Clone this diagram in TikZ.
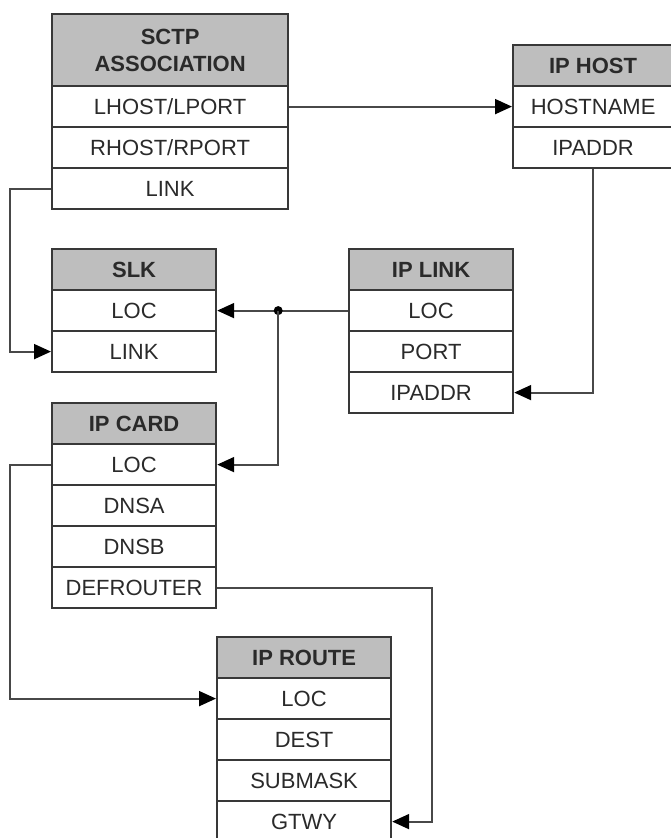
\documentclass[tikz,border=0pt]{standalone}
\usepackage{fontspec}
\setmainfont{Liberation Sans}
\usetikzlibrary{arrows.meta}
\definecolor{hdrgray}{HTML}{BEBEBE}
\definecolor{bord}{HTML}{383838}
\definecolor{txt}{HTML}{2A2A2A}
\definecolor{wire}{HTML}{484848}
\begin{document}
\begin{tikzpicture}[x=1pt,y=-1pt,
  cell/.style={draw=bord, line width=2.2pt, anchor=north west, inner sep=0pt,
    text=txt, font=\fontsize{22}{27}\selectfont, align=center},
  hdr/.style={cell, fill=hdrgray, font=\fontsize{22}{27}\selectfont\bfseries},
  fld/.style={cell, fill=white},
  conn/.style={draw=wire, line width=1.9pt, -{Triangle[length=17pt,width=15pt,color=black]}},
  plain/.style={draw=wire, line width=1.9pt}]
\useasboundingbox (0,0) rectangle (670,838);

% SCTP ASSOCIATION
\node[hdr, minimum width=236pt, minimum height=72pt] (sctp) at (51,13) {SCTP\\ASSOCIATION};
\node[fld, minimum width=236pt, minimum height=41pt] (sctpL) at (51,85) {LHOST/LPORT};
\node[fld, minimum width=236pt, minimum height=41pt] (sctpR) at (51,126) {RHOST/RPORT};
\node[fld, minimum width=236pt, minimum height=41pt] (sctpK) at (51,167) {LINK};

% IP HOST
\node[hdr, minimum width=160pt, minimum height=41pt] (iph) at (512,44) {IP HOST};
\node[fld, minimum width=160pt, minimum height=41pt] (iphN) at (512,85) {HOSTNAME};
\node[fld, minimum width=160pt, minimum height=41pt] (iphA) at (512,126) {IPADDR};

% SLK
\node[hdr, minimum width=164pt, minimum height=41pt] (slk) at (51,248) {SLK};
\node[fld, minimum width=164pt, minimum height=41pt] (slkL) at (51,289) {LOC};
\node[fld, minimum width=164pt, minimum height=41pt] (slkK) at (51,330) {LINK};

% IP LINK
\node[hdr, minimum width=164pt, minimum height=41pt] (ipl) at (348,248) {IP LINK};
\node[fld, minimum width=164pt, minimum height=41pt] (iplL) at (348,289) {LOC};
\node[fld, minimum width=164pt, minimum height=41pt] (iplP) at (348,330) {PORT};
\node[fld, minimum width=164pt, minimum height=41pt] (iplA) at (348,371) {IPADDR};

% IP CARD
\node[hdr, minimum width=164pt, minimum height=41pt] (ipc) at (51,402) {IP CARD};
\node[fld, minimum width=164pt, minimum height=41pt] (ipcL) at (51,443) {LOC};
\node[fld, minimum width=164pt, minimum height=41pt] (ipcA) at (51,484) {DNSA};
\node[fld, minimum width=164pt, minimum height=41pt] (ipcB) at (51,525) {DNSB};
\node[fld, minimum width=164pt, minimum height=41pt] (ipcD) at (51,566) {DEFROUTER};

% IP ROUTE
\node[hdr, minimum width=174pt, minimum height=41pt] (ipr) at (216,636) {IP ROUTE};
\node[fld, minimum width=174pt, minimum height=41pt] (iprL) at (216,677) {LOC};
\node[fld, minimum width=174pt, minimum height=41pt] (iprD) at (216,718) {DEST};
\node[fld, minimum width=174pt, minimum height=41pt] (iprS) at (216,759) {SUBMASK};
\node[fld, minimum width=174pt, minimum height=41pt] (iprG) at (216,800) {GTWY};

% connectors
\draw[conn] (sctpL.east) -- (iphN.west);
\draw[conn] (sctpK.west) -- ++(-41,0) |- (slkK.west);
\path (slkL.east) -- ++(61,0) coordinate (j);
\draw[conn] (iplL.west) -- (slkL.east);
\fill[black] (j) circle (4.5pt);
\draw[conn] (j) |- (ipcL.east);
\draw[conn] (iphA.south) |- (iplA.east);
\draw[conn] (ipcL.west) -- ++(-41,0) |- (iprL.west);
\draw[conn] (ipcD.east) -- ++(215,0) |- (iprG.east);
\end{tikzpicture}
\end{document}
